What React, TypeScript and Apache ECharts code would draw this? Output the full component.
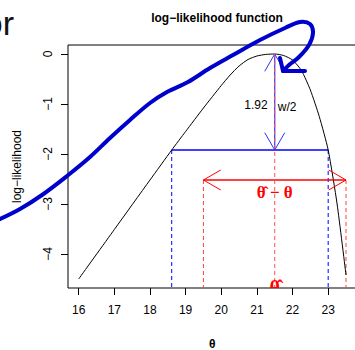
import React, { useEffect, useRef } from "react";
import * as echarts from "echarts";

// ---- data ----
const theta = [16, 17, 18, 18.61, 19, 19.5, 20, 20.25, 20.5, 20.75, 21, 21.25, 21.5, 21.75, 22, 22.25, 22.5, 22.75, 23, 23.25, 23.5];
const logLik = [-4.5, -3.51, -2.52, -1.92, -1.55, -1.08, -0.63, -0.42, -0.24, -0.11, -0.04, -0.008, 0, -0.03, -0.12, -0.33, -0.72, -1.25, -1.92, -3.0, -4.42];

const xTicks = [16, 17, 18, 19, 20, 21, 22, 23];
const yTicks = [0, -1, -2, -3, -4];

const thetaHat = 21.5;
const maxLogLik = 0;
const halfWidth = 1.92; // w/2
const ciLimits = [18.61, 23.0];
const errorRange = [19.5, 23.5];
const errorLevel = -2.52;

const xMin = 15.7;
const xMax = 23.8;
const yMin = -4.68;
const yMax = 0.18;

const FONT = "Liberation Sans, Arial, Helvetica, sans-serif";
const SERIF = "Liberation Serif, DejaVu Serif, serif";

const cutLevel = maxLogLik - halfWidth;

function clipOf(params: any) {
  const cs = params.coordSys;
  return { type: "rect", shape: { x: cs.x, y: cs.y, width: cs.width, height: cs.height } };
}

function segSeries(name: string, segs: number[][], color: string, width: number, dash: number[] | null, z: number) {
  return {
    type: "custom",
    name,
    coordinateSystem: "cartesian2d",
    z,
    silent: true,
    data: segs,
    encode: { x: [0, 2], y: [1, 3] },
    renderItem: (params: any, api: any) => {
      const p1 = api.coord([api.value(0), api.value(1)]);
      const p2 = api.coord([api.value(2), api.value(3)]);
      return {
        type: "group",
        clipPath: clipOf(params),
        children: [
          {
            type: "line",
            shape: { x1: p1[0], y1: p1[1], x2: p2[0], y2: p2[1] },
            style: { stroke: color, lineWidth: width, lineDash: dash || undefined, fill: null },
          },
        ],
      };
    },
  };
}

function head(tip: number[], from: number[], len: number, ang: number) {
  const a = Math.atan2(from[1] - tip[1], from[0] - tip[0]);
  return [
    [tip[0] + len * Math.cos(a + ang), tip[1] + len * Math.sin(a + ang)],
    [tip[0], tip[1]],
    [tip[0] + len * Math.cos(a - ang), tip[1] + len * Math.sin(a - ang)],
  ];
}

function arrowSeries(name: string, segs: number[][], color: string, width: number, z: number) {
  return {
    type: "custom",
    name,
    coordinateSystem: "cartesian2d",
    z,
    silent: true,
    data: segs,
    encode: { x: [0, 2], y: [1, 3] },
    renderItem: (params: any, api: any) => {
      const p1 = api.coord([api.value(0), api.value(1)]);
      const p2 = api.coord([api.value(2), api.value(3)]);
      const st = { stroke: color, lineWidth: width, fill: null };
      return {
        type: "group",
        children: [
          { type: "line", shape: { x1: p1[0], y1: p1[1], x2: p2[0], y2: p2[1] }, style: st },
          { type: "polyline", shape: { points: head(p1, p2, 20, Math.PI / 6) }, style: { ...st, lineWidth: 1 } },
          { type: "polyline", shape: { points: head(p2, p1, 20, Math.PI / 6) }, style: { ...st, lineWidth: 1 } },
        ],
      };
    },
  };
}

function textSeries(name: string, x: number, y: number, text: string, dx: number, dy: number, style: any, clip: boolean, z: number) {
  return {
    type: "custom",
    name,
    coordinateSystem: "cartesian2d",
    z,
    silent: true,
    data: [[x, y]],
    renderItem: (params: any, api: any) => {
      const p = api.coord([api.value(0), api.value(1)]);
      const el: any = {
        type: "text",
        x: p[0] + dx,
        y: p[1] + dy,
        style: { text, ...style },
      };
      if (clip) return { type: "group", clipPath: clipOf(params), children: [el] };
      return el;
    },
  };
}

const scribble = [
  [-2, 220], [20, 209], [42, 195], [67, 176], [90, 157], [110, 138], [130, 120], [150, 103],
  [167, 92], [188, 82], [210, 68], [233, 55], [260, 40], [285, 28], [300, 22], [310, 24],
  [313, 33], [309, 45], [299, 57], [289, 65], [283, 71],
];

export default function App() {
  const ref = useRef<HTMLDivElement>(null);
  useEffect(() => {
    if (!ref.current) return;
    const chart = echarts.init(ref.current, null, { renderer: "svg" });
    chart.setOption({
      animation: false,
      backgroundColor: "#ffffff",
      title: {
        text: "log\u2212likelihood function",
        left: 212,
        top: 7,
        textAlign: "center",
        textStyle: { fontSize: 12, fontWeight: "bold", fontFamily: FONT, color: "#000" },
      },
      grid: {
        left: 68,
        top: 45,
        width: 288.7,
        height: 243,
        containLabel: false,
        outerBoundsMode: "none",
        show: true,
        borderColor: "#000",
        borderWidth: 1,
        backgroundColor: "transparent",
      },
      xAxis: {
        type: "value",
        position: "bottom",
        min: xMin,
        max: xMax,
        name: "θ",
        nameLocation: "middle",
        nameGap: 52,
        nameTextStyle: { fontSize: 12, lineHeight: 8, fontWeight: "bold", fontFamily: FONT, color: "#000" },
        axisLine: { show: false, onZero: false },
        axisTick: { show: true, inside: false, length: 7, customValues: xTicks, lineStyle: { color: "#000" } },
        axisLabel: { customValues: xTicks, margin: 16, fontSize: 12, fontFamily: FONT, color: "#000" },
        splitLine: { show: false },
      },
      yAxis: {
        type: "value",
        position: "left",
        min: yMin,
        max: yMax,
        name: "log\u2212likelihood",
        nameLocation: "middle",
        nameGap: 45,
        nameTextStyle: { fontSize: 12, fontFamily: FONT, color: "#000" },
        axisLine: { show: false, onZero: false },
        axisTick: { show: true, inside: false, length: 7, customValues: yTicks, lineStyle: { color: "#000" } },
        axisLabel: {
          customValues: yTicks,
          rotate: 90,
          margin: 14,
          fontSize: 12,
          fontFamily: FONT,
          color: "#000",
          formatter: (v: number) => (v < 0 ? "\u2212" + Math.abs(v) : String(v)),
        },
        splitLine: { show: false },
      },
      series: [
        segSeries("ci-dashed", ciLimits.map((c) => [c, cutLevel, c, yMin - 1]), "#0000ff", 1, [4, 3], 3),
        segSeries("err-dashed", errorRange.map((c) => [c, errorLevel, c, yMin - 1]), "#ff4040", 1, [4, 3], 3),
        segSeries("cut", [[ciLimits[0], cutLevel, ciLimits[1], cutLevel]], "#0000ff", 1.6, null, 4),
        {
          type: "line",
          name: "log-likelihood",
          data: theta.map((t, i) => [t, logLik[i]]),
          showSymbol: false,
          symbol: "none",
          smooth: 0.2,
          lineStyle: { color: "#000", width: 1 },
          z: 5,
          silent: true,
        },
        arrowSeries("w2", [[thetaHat, maxLogLik, thetaHat, cutLevel]], "#3030ff", 1.2, 6),
        segSeries("hat-dashed", [[thetaHat, maxLogLik, thetaHat, yMin - 1]], "#ff5050", 1, [4, 3], 7),
        arrowSeries("err", [[errorRange[0], errorLevel, errorRange[1], errorLevel]], "#ff0000", 1.3, 6),
        textSeries("lbl192", thetaHat, maxLogLik - halfWidth / 2, "1.92", -7, 3,
          { fill: "#000", fontSize: 12, fontFamily: FONT, align: "right", verticalAlign: "middle" }, false, 8),
        textSeries("lblw2", thetaHat, maxLogLik - halfWidth / 2, "w/2", 3, 5,
          { fill: "#000", fontSize: 12, fontFamily: FONT, align: "left", verticalAlign: "middle" }, false, 8),
        textSeries("lblerr", thetaHat, errorLevel, "θ\u0302 \u2212 θ", 0, 12,
          { fill: "#ff0000", fontSize: 17, fontWeight: "bold", fontFamily: SERIF, align: "center", verticalAlign: "middle" }, false, 8),
        textSeries("lblhat", thetaHat, yMin, "θ\u0302", 0, 0,
          { fill: "#ff0000", fontSize: 20, fontWeight: "bold", fontFamily: SERIF, align: "center", verticalAlign: "middle" }, true, 8),
      ],
      graphic: [
        {
          type: "text",
          x: 14,
          y: 40,
          z: 50,
          style: { text: "or", fill: "#111", fontSize: 34, fontFamily: FONT, align: "right", verticalAlign: "bottom" },
        },
        {
          type: "polyline",
          z: 100,
          shape: { points: scribble, smooth: 0.35 },
          style: { stroke: "#0000cc", lineWidth: 4, fill: null, lineCap: "round", lineJoin: "round" },
        },
        {
          type: "polyline",
          z: 100,
          shape: { points: [[280, 58], [283, 71], [305, 71]] },
          style: { stroke: "#0000cc", lineWidth: 4, fill: null, lineCap: "round", lineJoin: "round" },
        },
      ],
    });
    return () => chart.dispose();
  }, []);
  return <div ref={ref} style={{ position: "absolute", left: 0, top: 0, width: 355, height: 350 }} />;
}
